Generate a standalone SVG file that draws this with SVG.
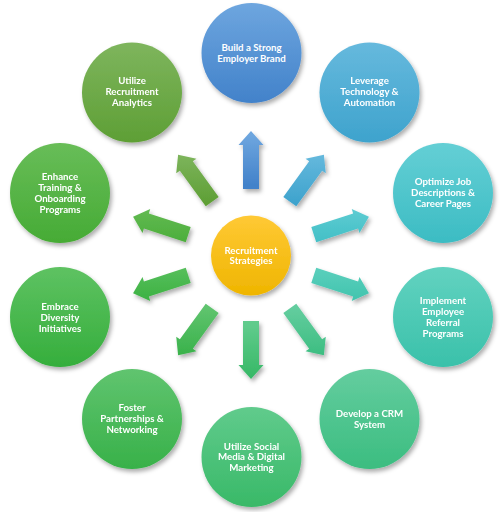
<svg xmlns="http://www.w3.org/2000/svg" width="503" height="512" viewBox="0 0 503 512">
<style>
.t{font-family:Lato,"Open Sans","Liberation Sans",sans-serif;font-weight:bold;font-size:9.7px;fill:#fff;text-anchor:middle}
</style>
<defs>
<filter id="sh" x="-30%" y="-30%" width="160%" height="170%">
<feDropShadow dx="2" dy="3" stdDeviation="2.2" flood-color="#000" flood-opacity="0.32"/>
</filter>
<linearGradient id="g0" x1="0" y1="0" x2="0" y2="1"><stop offset="0" stop-color="#6EA6DF"/><stop offset="1" stop-color="#4282CA"/></linearGradient>
<linearGradient id="g1" x1="0" y1="0" x2="0" y2="1"><stop offset="0" stop-color="#66B9DD"/><stop offset="1" stop-color="#3EA3CD"/></linearGradient>
<linearGradient id="g2" x1="0" y1="0" x2="0" y2="1"><stop offset="0" stop-color="#64CFD5"/><stop offset="1" stop-color="#3CBCC3"/></linearGradient>
<linearGradient id="g3" x1="0" y1="0" x2="0" y2="1"><stop offset="0" stop-color="#62D2C0"/><stop offset="1" stop-color="#3AC1AA"/></linearGradient>
<linearGradient id="g4" x1="0" y1="0" x2="0" y2="1"><stop offset="0" stop-color="#64CD9F"/><stop offset="1" stop-color="#3BBD80"/></linearGradient>
<linearGradient id="g5" x1="0" y1="0" x2="0" y2="1"><stop offset="0" stop-color="#60CB8C"/><stop offset="1" stop-color="#39B968"/></linearGradient>
<linearGradient id="g6" x1="0" y1="0" x2="0" y2="1"><stop offset="0" stop-color="#60C46F"/><stop offset="1" stop-color="#38B149"/></linearGradient>
<linearGradient id="g7" x1="0" y1="0" x2="0" y2="1"><stop offset="0" stop-color="#5EC262"/><stop offset="1" stop-color="#35AE3C"/></linearGradient>
<linearGradient id="g8" x1="0" y1="0" x2="0" y2="1"><stop offset="0" stop-color="#68BD58"/><stop offset="1" stop-color="#46AB35"/></linearGradient>
<linearGradient id="g9" x1="0" y1="0" x2="0" y2="1"><stop offset="0" stop-color="#7EB55D"/><stop offset="1" stop-color="#5E9F35"/></linearGradient>
<linearGradient id="gc" x1="0" y1="0" x2="0" y2="1"><stop offset="0" stop-color="#FFC935"/><stop offset="1" stop-color="#EFB500"/></linearGradient>
<linearGradient id="a0" gradientUnits="userSpaceOnUse" x1="120" y1="0" x2="70" y2="0"><stop offset="0" stop-color="#6EA6DF"/><stop offset="1" stop-color="#4282CA"/></linearGradient>
<linearGradient id="a1" gradientUnits="userSpaceOnUse" x1="115.2" y1="-14.7" x2="74.8" y2="14.7"><stop offset="0" stop-color="#66B9DD"/><stop offset="1" stop-color="#3EA3CD"/></linearGradient>
<linearGradient id="a2" gradientUnits="userSpaceOnUse" x1="102.7" y1="-23.8" x2="87.3" y2="23.8"><stop offset="0" stop-color="#64CFD5"/><stop offset="1" stop-color="#3CBCC3"/></linearGradient>
<linearGradient id="a3" gradientUnits="userSpaceOnUse" x1="87.3" y1="-23.8" x2="102.7" y2="23.8"><stop offset="0" stop-color="#62D2C0"/><stop offset="1" stop-color="#3AC1AA"/></linearGradient>
<linearGradient id="a4" gradientUnits="userSpaceOnUse" x1="74.8" y1="-14.7" x2="115.2" y2="14.7"><stop offset="0" stop-color="#64CD9F"/><stop offset="1" stop-color="#3BBD80"/></linearGradient>
<linearGradient id="a5" gradientUnits="userSpaceOnUse" x1="70" y1="0" x2="120" y2="0"><stop offset="0" stop-color="#60CB8C"/><stop offset="1" stop-color="#39B968"/></linearGradient>
<linearGradient id="a6" gradientUnits="userSpaceOnUse" x1="74.8" y1="14.7" x2="115.2" y2="-14.7"><stop offset="0" stop-color="#60C46F"/><stop offset="1" stop-color="#38B149"/></linearGradient>
<linearGradient id="a7" gradientUnits="userSpaceOnUse" x1="87.3" y1="23.8" x2="102.7" y2="-23.8"><stop offset="0" stop-color="#5EC262"/><stop offset="1" stop-color="#35AE3C"/></linearGradient>
<linearGradient id="a8" gradientUnits="userSpaceOnUse" x1="102.7" y1="23.8" x2="87.3" y2="-23.8"><stop offset="0" stop-color="#68BD58"/><stop offset="1" stop-color="#46AB35"/></linearGradient>
<linearGradient id="a9" gradientUnits="userSpaceOnUse" x1="115.2" y1="14.7" x2="74.8" y2="-14.7"><stop offset="0" stop-color="#7EB55D"/><stop offset="1" stop-color="#5E9F35"/></linearGradient>
<path id="arr" d="M66,-8 L110,-8 L110,-12.5 L124,0 L110,12.5 L110,8 L66,8 Z"/>
</defs>
<rect width="503" height="512" fill="#fff"/>
<g id="connectors" filter="url(#sh)">
<use href="#arr" fill="url(#a0)" transform="translate(251,255) rotate(-90)"/>
<use href="#arr" fill="url(#a1)" transform="translate(251,255) rotate(-54)"/>
<use href="#arr" fill="url(#a2)" transform="translate(251,255) rotate(-18)"/>
<use href="#arr" fill="url(#a3)" transform="translate(251,255) rotate(18)"/>
<use href="#arr" fill="url(#a4)" transform="translate(251,255) rotate(54)"/>
<use href="#arr" fill="url(#a5)" transform="translate(251,255) rotate(90)"/>
<use href="#arr" fill="url(#a6)" transform="translate(251,255) rotate(126)"/>
<use href="#arr" fill="url(#a7)" transform="translate(251,255) rotate(162)"/>
<use href="#arr" fill="url(#a8)" transform="translate(251,255) rotate(198)"/>
<use href="#arr" fill="url(#a9)" transform="translate(251,255) rotate(234)"/>
</g>
<g id="center">
<circle cx="251" cy="255.5" r="40" fill="url(#gc)" filter="url(#sh)"/>
<text class="t"><tspan x="251" y="253.5">Recruitment</tspan><tspan x="251" y="264">Strategies</tspan></text>
</g>
<g id="n0">
<circle cx="251.5" cy="53" r="50" fill="url(#g0)" filter="url(#sh)"/>
<text class="t"><tspan x="251.5" y="51">Build a Strong</tspan><tspan x="251.5" y="62">Employer Brand</tspan></text>
</g>
<g id="n1">
<circle cx="369.5" cy="92.5" r="50" fill="url(#g1)" filter="url(#sh)"/>
<text class="t"><tspan x="369.5" y="84">Leverage</tspan><tspan x="369.5" y="95">Technology &amp;</tspan><tspan x="369.5" y="106">Automation</tspan></text>
</g>
<g id="n2">
<circle cx="443" cy="193" r="50" fill="url(#g2)" filter="url(#sh)"/>
<text class="t"><tspan x="443" y="185">Optimize Job</tspan><tspan x="443" y="196">Descriptions &amp;</tspan><tspan x="443" y="207">Career Pages</tspan></text>
</g>
<g id="n3">
<circle cx="443" cy="317" r="50" fill="url(#g3)" filter="url(#sh)"/>
<text class="t"><tspan x="443" y="304">Implement</tspan><tspan x="443" y="315">Employee</tspan><tspan x="443" y="326">Referral</tspan><tspan x="443" y="337">Programs</tspan></text>
</g>
<g id="n4">
<circle cx="369.5" cy="419" r="50" fill="url(#g4)" filter="url(#sh)"/>
<text class="t"><tspan x="369.5" y="417">Develop a CRM</tspan><tspan x="369.5" y="427.5">System</tspan></text>
</g>
<g id="n5">
<circle cx="251.5" cy="457" r="50" fill="url(#g5)" filter="url(#sh)"/>
<text class="t"><tspan x="251.5" y="449.5">Utilize Social</tspan><tspan x="251.5" y="460">Media &amp; Digital</tspan><tspan x="251.5" y="471">Marketing</tspan></text>
</g>
<g id="n6">
<circle cx="132" cy="419" r="50" fill="url(#g6)" filter="url(#sh)"/>
<text class="t"><tspan x="132" y="411">Foster</tspan><tspan x="132" y="422">Partnerships &amp;</tspan><tspan x="132" y="433">Networking</tspan></text>
</g>
<g id="n7">
<circle cx="60" cy="317" r="50" fill="url(#g7)" filter="url(#sh)"/>
<text class="t"><tspan x="60" y="310">Embrace</tspan><tspan x="60" y="321">Diversity</tspan><tspan x="60" y="332">Initiatives</tspan></text>
</g>
<g id="n8">
<circle cx="60" cy="193" r="50" fill="url(#g8)" filter="url(#sh)"/>
<text class="t"><tspan x="60" y="180">Enhance</tspan><tspan x="60" y="191">Training &amp;</tspan><tspan x="60" y="202">Onboarding</tspan><tspan x="60" y="213">Programs</tspan></text>
</g>
<g id="n9">
<circle cx="132" cy="92.5" r="50" fill="url(#g9)" filter="url(#sh)"/>
<text class="t"><tspan x="132" y="84">Utilize</tspan><tspan x="132" y="95">Recruitment</tspan><tspan x="132" y="106">Analytics</tspan></text>
</g>
</svg>
